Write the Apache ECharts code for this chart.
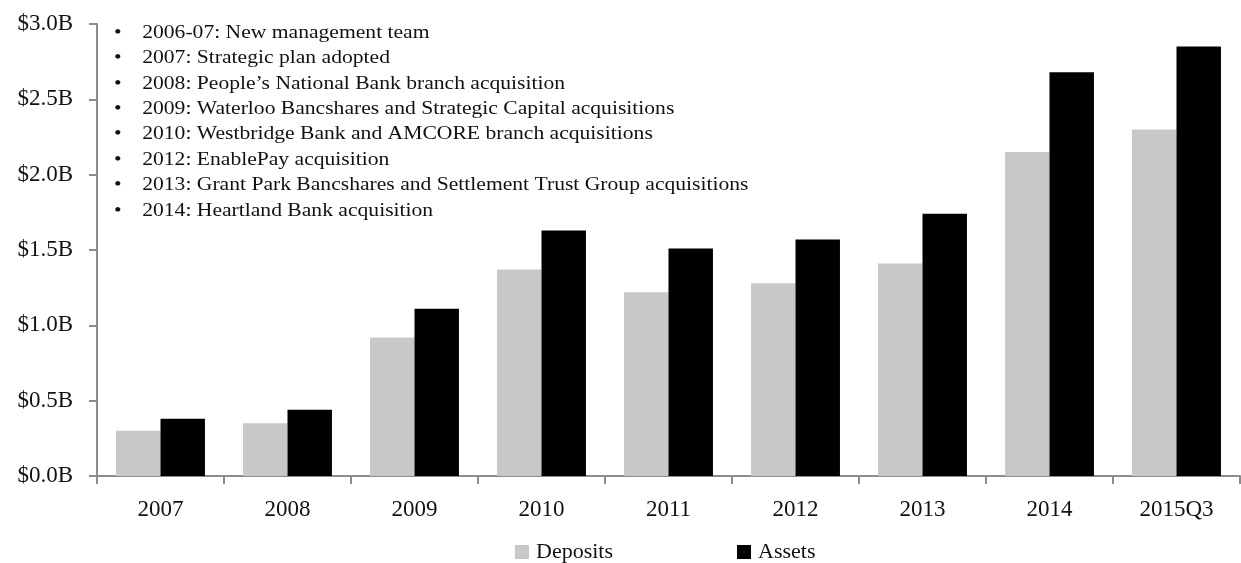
<!DOCTYPE html>
<html><head><meta charset="utf-8">
<script src="https://cdn.jsdelivr.net/npm/echarts@6/dist/echarts.min.js"></script>
<style>html,body{margin:0;padding:0;background:#fff}#c{width:1241px;height:563px}</style>
</head><body><div id="c"></div>
<script>
const categories = ['2007','2008','2009','2010','2011','2012','2013','2014','2015Q3'];
const deposits = [0.30, 0.35, 0.92, 1.37, 1.22, 1.28, 1.41, 2.15, 2.30];
const assets = [0.38, 0.44, 1.11, 1.63, 1.51, 1.57, 1.74, 2.68, 2.85];
const notes = [
  '2006-07: New management team',
  '2007: Strategic plan adopted',
  '2008: People\u2019s National Bank branch acquisition',
  '2009: Waterloo Bancshares and Strategic Capital acquisitions',
  '2010: Westbridge Bank and AMCORE branch acquisitions',
  '2012: EnablePay acquisition',
  '2013: Grant Park Bancshares and Settlement Trust Group acquisitions',
  '2014: Heartland Bank acquisition'
];
const FONT = '"Liberation Serif", "Times New Roman", serif';
const chart = echarts.init(document.getElementById('c'));
const noteEls = notes.map((t, i) => ({
  type: 'group', x: 114, y: 24 + i * 25.4, scaleX: 1.2,
  children: [
    {type: 'text', x: 0, y: 0, style: {text: '\u2022', font: '18px ' + FONT, fill: '#111'}},
    {type: 'text', x: 23.5, y: 0, style: {text: t, font: '18px ' + FONT, fill: '#111'}}
  ]
}));
chart.setOption({
  animation: false,
  backgroundColor: '#fff',
  grid: {left: 97, right: 1, top: 24, bottom: 87, containLabel: false},
  legend: {
    left: 510, top: 536, itemWidth: 14, itemHeight: 14, itemGap: 124,
    textStyle: {fontFamily: FONT, fontSize: 22, color: '#111', padding: [0,0,0,2]},
    data: [{name: 'Deposits', icon: 'rect'}, {name: 'Assets', icon: 'rect'}]
  },
  xAxis: {
    type: 'category', data: categories,
    axisLine: {lineStyle: {color: '#8c8c8c', width: 2}},
    axisTick: {show: true, length: 8, lineStyle: {color: '#8c8c8c', width: 2}},
    axisLabel: {fontFamily: FONT, fontSize: 23, color: '#111', margin: 22}
  },
  yAxis: {
    type: 'value', min: 0, max: 3, interval: 0.5,
    splitLine: {show: false},
    axisLine: {show: true, lineStyle: {color: '#8c8c8c', width: 2}},
    axisTick: {show: true, length: 8, lineStyle: {color: '#8c8c8c', width: 2}},
    axisLabel: {fontFamily: FONT, fontSize: 23, color: '#111', margin: 24,
      formatter: v => '$' + v.toFixed(1) + 'B'}
  },
  series: [
    {name: 'Deposits', type: 'bar', data: deposits, barGap: '0%', barCategoryGap: '30%',
      itemStyle: {color: '#c8c8c8'}},
    {name: 'Assets', type: 'bar', data: assets, barGap: '0%', barCategoryGap: '30%',
      itemStyle: {color: '#000'}}
  ],
  graphic: noteEls
});
</script></body></html>
